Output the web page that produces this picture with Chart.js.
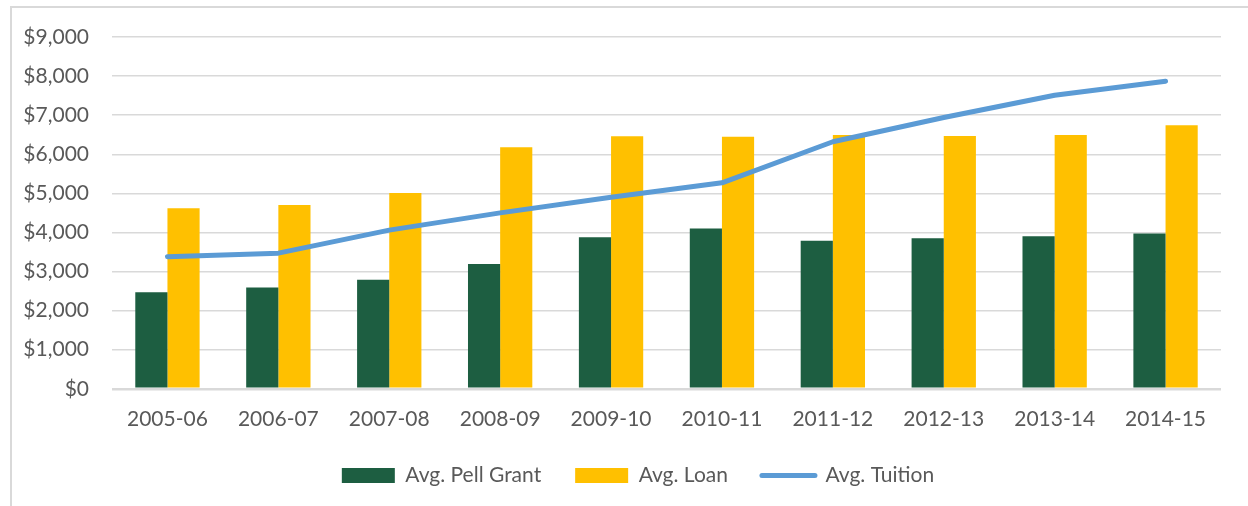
<!DOCTYPE html>
<html>
<head>
<meta charset="utf-8">
<script src="https://cdn.jsdelivr.net/npm/chart.js@4/dist/chart.umd.min.js"></script>
<style>
  html, body { margin: 0; padding: 0; background: #fff; }
  #wrap { position: relative; width: 1248px; height: 506px; }
</style>
</head>
<body>
<div id="wrap"><canvas id="chart"></canvas></div>
<script>
const CATEGORIES = ['2005-06', '2006-07', '2007-08', '2008-09', '2009-10', '2010-11', '2011-12', '2012-13', '2013-14', '2014-15'];
const PELL_GRANT = [2470, 2590, 2790, 3190, 3880, 4100, 3790, 3850, 3900, 3970];
const LOAN = [4620, 4700, 5010, 6180, 6460, 6450, 6490, 6470, 6490, 6740];
const TUITION = [3380, 3470, 4060, 4500, 4900, 5270, 6320, 6940, 7510, 7870];
const Y_TICKS = [0, 1000, 2000, 3000, 4000, 5000, 6000, 7000, 8000, 9000];

const GREEN = '#1D5E41';
const GOLD = '#FFC000';
const BLUE = '#5B9BD5';
const TEXT = '#595959';
const GRID = '#D9D9D9';
const FONT = 'Lato';

// outer frame like the spreadsheet chart border
const framePlugin = {
  id: 'frame',
  beforeDraw(chart) {
    const ctx = chart.ctx;
    ctx.save();
    ctx.fillStyle = '#fff';
    ctx.fillRect(0, 0, chart.width, chart.height);
    ctx.strokeStyle = GRID;
    ctx.lineWidth = 2;
    ctx.beginPath();
    ctx.moveTo(11, chart.height);
    ctx.lineTo(11, 7);
    ctx.lineTo(chart.width, 7);
    ctx.stroke();
    ctx.restore();
    // let tick labels spill outside their axis boxes
    Object.values(chart.scales).forEach((s) => { s._computeLabelArea = () => undefined; });
  },
};

const ctx = document.getElementById('chart').getContext('2d');

new Chart(ctx, {
  data: {
    labels: CATEGORIES,
    datasets: [
      {
        type: 'bar',
        label: 'Avg. Pell Grant',
        data: PELL_GRANT,
        backgroundColor: GREEN,
        order: 1,
      },
      {
        type: 'bar',
        label: 'Avg. Loan',
        data: LOAN,
        backgroundColor: GOLD,
        order: 1,
      },
      {
        type: 'line',
        label: 'Avg. Tuition',
        data: TUITION,
        borderColor: BLUE,
        backgroundColor: BLUE,
        borderWidth: 5,
        borderCapStyle: 'round',
        borderJoinStyle: 'round',
        tension: 0,
        pointRadius: 0,
        fill: false,
        order: 0,
      },
    ],
  },
  options: {
    responsive: true,
    maintainAspectRatio: false,
    animation: false,
    layout: {
      padding: { left: 55, right: 27, top: 37, bottom: 10 },
    },
    datasets: {
      bar: { barPercentage: 1, categoryPercentage: 0.58 },
    },
    plugins: {
      tooltip: { enabled: false },
      legend: {
        position: 'bottom',
        labels: {
          color: TEXT,
          font: { family: FONT, size: 21 },
          usePointStyle: true,
          pointStyleWidth: 53,
          boxWidth: 53,
          boxHeight: 15,
          padding: 34,
          sort: (a, b) => a.datasetIndex - b.datasetIndex,
          generateLabels: (chart) => {
            const items = Chart.defaults.plugins.legend.labels.generateLabels(chart);
            items.forEach((it) => {
              if (it.datasetIndex === 2) {
                it.pointStyle = 'line';
                it.lineWidth = 5;
                it.strokeStyle = BLUE;
                it.lineCap = 'round';
              } else {
                it.pointStyle = 'rect';
                it.lineWidth = 0;
              }
            });
            return items;
          },
        },
      },
    },
    scales: {
      x: {
        grid: { display: false },
        border: { display: false },
        afterFit: (scale) => { scale.height -= 11; },
        ticks: { color: TEXT, font: { family: FONT, size: 21 }, padding: 10, maxRotation: 0 },
      },
      y: {
        min: 0,
        max: 9000,
        afterFit: (scale) => { scale.width = 57; },
        afterBuildTicks: (scale) => { scale.ticks = Y_TICKS.map((v) => ({ value: v })); },
        grid: {
          color: GRID,
          drawTicks: false,
          lineWidth: (c) => (c.tick && c.tick.value === 0 ? 2.5 : 1.5),
        },
        border: { display: false },
        ticks: {
          color: TEXT,
          font: { family: FONT, size: 21 },
          padding: 23,
          callback: (val) => '$' + val.toLocaleString('en-US'),
        },
      },
    },
  },
  plugins: [framePlugin],
});
</script>
</body>
</html>
